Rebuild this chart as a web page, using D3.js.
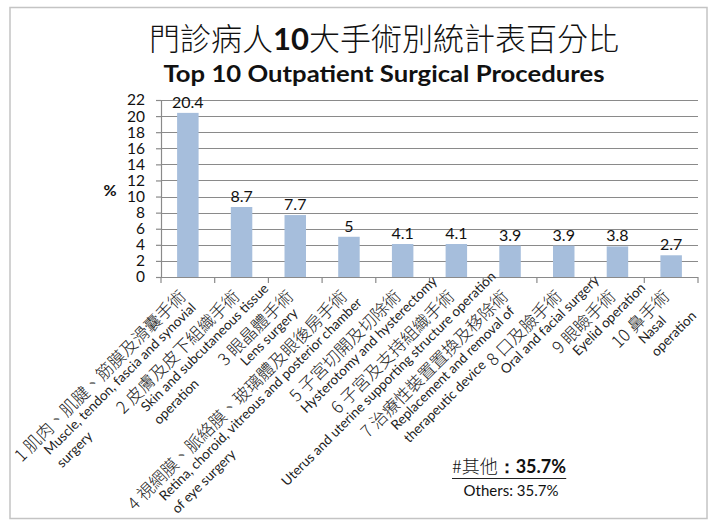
<!DOCTYPE html>
<html>
<head>
<meta charset="utf-8">
<script src="https://cdn.jsdelivr.net/npm/d3@7"></script>
<style>
  html, body { margin: 0; padding: 0; background: #ffffff; }
  svg { display: block; }
</style>
</head>
<body>
<div id="chart"></div>
<script>
// ---- data ----
const categoriesZh = [
  "1 肌肉、肌腱、筋膜及滑囊手術",
  "2 皮膚及皮下組織手術",
  "3 眼晶體手術",
  "4 視網膜、脈絡膜、玻璃體及眼後房手術",
  "5 子宮切開及切除術",
  "6 子宮及支持組織手術",
  "7 治療性裝置置換及移除術",
  "8 口及臉手術",
  "9 眼瞼手術",
  "10 鼻手術"
];
const categoriesEn = [
  ["Muscle, tendon, fascia and synovial", "surgery"],
  ["Skin and subcutaneous tissue", "operation"],
  ["Lens surgery"],
  ["Retina, choroid, vitreous and posterior chamber", "of eye surgery"],
  ["Hysterotomy and hysterectomy"],
  ["Uterus and uterine supporting structure operation"],
  ["Replacement and removal of", "therapeutic device"],
  ["Oral and facial surgery"],
  ["Eyelid operation"],
  ["Nasal", "operation"]
];
const values = [20.4, 8.7, 7.7, 5, 4.1, 4.1, 3.9, 3.9, 3.8, 2.7];
const valueLabels = ["20.4", "8.7", "7.7", "5", "4.1", "4.1", "3.9", "3.9", "3.8", "2.7"];
const yTicks = [0, 2, 4, 6, 8, 10, 12, 14, 16, 18, 20, 22];
const titleZh = ["門診病人", "10", "大手術別統計表百分比"];
const titleEn = "Top 10 Outpatient Surgical Procedures";
const yAxisLabel = "%";
const otherZh = ["#其他", "：35.7%"];
const otherEn = "Others: 35.7%";

// ---- layout (not data) ----
const W = 713, H = 523;
const plot = { left: 161, right: 698, top: 100, bottom: 277 };
// start offsets (along rotated text) of the English lines, per category
const enStartOffset = [-224, -163, -98, -289, -165, -268, -189, -110, -84, -67];

const svg = d3.select("#chart").append("svg").attr("width", W).attr("height", H);

// frame
svg.append("rect").attr("x", 10).attr("y", 7.5).attr("width", 697).attr("height", 511)
  .attr("fill", "#ffffff").attr("stroke", "#c4c4c4").attr("stroke-width", 1.5);

const cjk = "'Noto Sans CJK TC', 'Noto Sans CJK SC', sans-serif";
const latin = "Lato, 'Open Sans', sans-serif";

// titles
const t1 = svg.append("text").attr("x", 384).attr("y", 50).attr("text-anchor", "middle")
  .attr("font-family", cjk).attr("font-size", 31).attr("font-weight", 300).attr("fill", "#111");
t1.append("tspan").text(titleZh[0]);
t1.append("tspan").attr("font-weight", 700).attr("font-family", latin).text(titleZh[1]);
t1.append("tspan").text(titleZh[2]);

svg.append("text").attr("x", 384).attr("y", 82).attr("text-anchor", "middle")
  .attr("font-family", latin).attr("font-size", 22).attr("font-weight", 700).attr("fill", "#111")
  .attr("textLength", 441).attr("lengthAdjust", "spacingAndGlyphs")
  .text(titleEn);

// scales
const x = d3.scaleBand().domain(categoriesZh).range([plot.left, plot.right])
  .paddingInner(0.6).paddingOuter(0.3);
const y = d3.scaleLinear().domain([0, 22]).range([plot.bottom, plot.top]);

// gridlines
svg.append("g").selectAll("line").data(yTicks.filter(d => d > 0)).join("line")
  .attr("x1", plot.left).attr("x2", plot.right)
  .attr("y1", d => Math.round(y(d)) + 0.5).attr("y2", d => Math.round(y(d)) + 0.5)
  .attr("stroke", "#8a8a8a").attr("stroke-width", 1.2);

// y axis
const yAxis = svg.append("g").attr("transform", `translate(${plot.left},0)`)
  .call(d3.axisLeft(y).tickValues(yTicks).tickSize(5).tickPadding(11).tickSizeOuter(0));
yAxis.select(".domain").attr("stroke", "#8a8a8a").attr("stroke-width", 1.2);
yAxis.selectAll(".tick line").attr("stroke", "#8a8a8a").attr("stroke-width", 1.2);
yAxis.selectAll(".tick text").attr("font-family", latin).attr("font-size", 15.5).attr("fill", "#111");

// bars
svg.append("g").selectAll("rect").data(values).join("rect")
  .attr("x", (d, i) => x(categoriesZh[i]))
  .attr("width", x.bandwidth())
  .attr("y", d => y(d))
  .attr("height", d => y(0) - y(d))
  .attr("fill", "#a6bedc");

// value labels
svg.append("g").selectAll("text").data(values).join("text")
  .attr("x", (d, i) => x(categoriesZh[i]) + x.bandwidth() / 2)
  .attr("y", d => y(d) - 5)
  .attr("text-anchor", "middle")
  .attr("font-family", latin).attr("font-size", 16).attr("fill", "#111")
  .text((d, i) => valueLabels[i]);

// x axis line and category boundary ticks
svg.append("line").attr("x1", plot.left).attr("x2", plot.right)
  .attr("y1", plot.bottom + 0.5).attr("y2", plot.bottom + 0.5)
  .attr("stroke", "#8a8a8a").attr("stroke-width", 1.2);
const step = x.step();
const boundaries = d3.range(categoriesZh.length + 1).map(i =>
  i < categoriesZh.length ? x(categoriesZh[i]) - step * x.paddingInner() / 2 : plot.right);
svg.append("g").selectAll("line").data(boundaries).join("line")
  .attr("x1", d => d).attr("x2", d => d)
  .attr("y1", plot.bottom).attr("y2", plot.bottom + 6)
  .attr("stroke", "#8a8a8a").attr("stroke-width", 1.2);

// category labels rotated -45
const lab = svg.append("g").selectAll("g").data(categoriesZh).join("g")
  .attr("transform", d => `translate(${x(d) + x.bandwidth() / 2},${plot.bottom}) rotate(-45)`);
lab.append("text").attr("x", -15).attr("y", 14).attr("text-anchor", "end")
  .attr("font-family", cjk).attr("font-size", 17).attr("font-weight", 300).attr("fill", "#222")
  .text(d => d);
lab.each(function(d, i) {
  const g = d3.select(this);
  categoriesEn[i].forEach((line, j) => {
    g.append("text").attr("x", enStartOffset[i]).attr("y", j === 0 ? 28.5 : 46.5)
      .attr("font-family", latin).attr("font-size", 13.5).attr("fill", "#222")
      .text(line);
  });
});

// y axis title
svg.append("text").attr("x", 110).attr("y", 196).attr("text-anchor", "middle")
  .attr("font-family", latin).attr("font-size", 16).attr("font-weight", 700).attr("fill", "#111")
  .text(yAxisLabel);

// others note
const o1 = svg.append("text").attr("x", 509).attr("y", 473).attr("text-anchor", "middle")
  .attr("font-size", 18).attr("fill", "#111");
o1.append("tspan").attr("font-family", cjk).attr("font-weight", 300).text(otherZh[0]);
o1.append("tspan").attr("font-family", latin).attr("font-weight", 700).text(otherZh[1]);
const bb = o1.node().getBBox();
svg.append("line").attr("x1", bb.x).attr("x2", bb.x + bb.width)
  .attr("y1", 478.5).attr("y2", 478.5).attr("stroke", "#222").attr("stroke-width", 1.2);
svg.append("text").attr("x", 511).attr("y", 496).attr("text-anchor", "middle")
  .attr("font-family", latin).attr("font-size", 15).attr("fill", "#111")
  .text(otherEn);
</script>
</body>
</html>
